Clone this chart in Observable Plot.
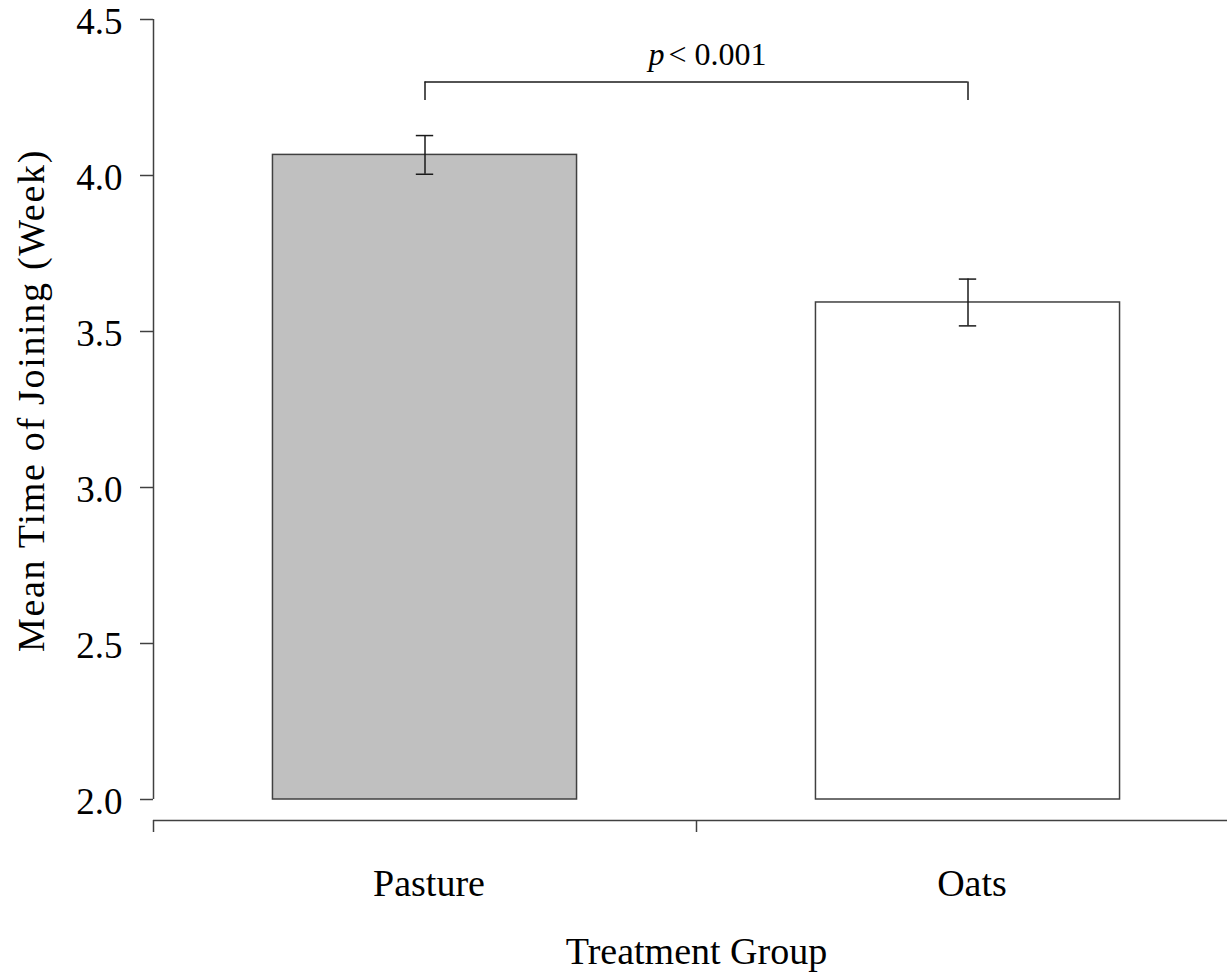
<!DOCTYPE html>
<html><head><meta charset="utf-8">
<script src="https://cdn.jsdelivr.net/npm/d3@7"></script>
<script src="https://cdn.jsdelivr.net/npm/@observablehq/plot@0.6"></script>
<style>
html,body{margin:0;padding:0;background:#fff;overflow:hidden;}
</style></head><body><div id="chart"></div>
<script>
// ---- data ----
const categories = ["Pasture", "Oats"];
const means = [4.066, 3.593];
const stdErrors = [0.062, 0.075];
const barFills = ["#c0c0c0", "#ffffff"];
const yTicks = [2.0, 2.5, 3.0, 3.5, 4.0, 4.5];
const yDomain = [2.0, 4.5];
const bracketLevel = 4.30;
const bracketDrop = 4.24;
const pSymbol = "p";
const pText = "< 0.001";
const xLabel = "Treatment Group";
const yLabel = "Mean Time of Joining (Week)";

const data = categories.map((c, i) => ({category: c, pos: i + 1, mean: means[i], se: stdErrors[i], fill: barFills[i]}));
const xDomain = [0.5, categories.length + 0.5];
const xTicks = d3.range(xDomain[0], xDomain[1] + 1e-9, 1);
const font = "'Liberation Serif', 'Times New Roman', serif";
const lineColor = "#404040";
const half = 0.28, cap = 0.016;

const plot = Plot.plot({
  width: 1227, height: 974,
  marginLeft: 153, marginRight: 0, marginTop: 19, marginBottom: 175,
  x: {domain: xDomain, range: [153, 1239], axis: null},
  y: {domain: yDomain, axis: null},
  color: {type: "identity"},
  style: {fontFamily: font, background: "white", overflow: "hidden", color: "black"},
  marks: [
    // bars
    Plot.rectY(data, {x1: d => d.pos - half, x2: d => d.pos + half, y1: yDomain[0], y2: "mean", fill: "fill", stroke: lineColor, strokeWidth: 1.5}),
    // error bars
    Plot.ruleX(data, {x: "pos", y1: d => d.mean - d.se, y2: d => d.mean + d.se, stroke: "#1a1a1a", strokeWidth: 1.5}),
    Plot.ruleY(data, {y: d => d.mean + d.se, x1: d => d.pos - cap, x2: d => d.pos + cap, stroke: "#1a1a1a", strokeWidth: 1.5}),
    Plot.ruleY(data, {y: d => d.mean - d.se, x1: d => d.pos - cap, x2: d => d.pos + cap, stroke: "#1a1a1a", strokeWidth: 1.5}),
    // y axis
    Plot.ruleX([xDomain[0]], {y1: yDomain[0], y2: yDomain[1], stroke: lineColor, strokeWidth: 1.5}),
    Plot.axisY({ticks: yTicks, tickSize: 13, tickFormat: () => "", label: null, stroke: lineColor, strokeWidth: 1.5}),
    Plot.text(yTicks, {x: xDomain[0], y: d => d, text: d => d3.format(".1f")(d), textAnchor: "end", dx: -31, dy: 3, fontSize: 37, fill: "black"}),
    // x axis
    Plot.ruleY([yDomain[0]], {x1: xDomain[0], x2: xDomain[1], dy: 21, stroke: lineColor, strokeWidth: 1.5}),
    Plot.axisX({ticks: xTicks, tickSize: 12, tickFormat: () => "", label: null, dy: 21, stroke: lineColor, strokeWidth: 1.5}),
    Plot.text(data, {x: "pos", y: yDomain[0], text: "category", lineAnchor: "bottom", dy: 96, dx: 4, fontSize: 38, fill: "black"}),
    Plot.text([xLabel], {x: d3.mean(xDomain), y: yDomain[0], lineAnchor: "bottom", dy: 164, fontSize: 38, fill: "black"}),
    Plot.text([yLabel], {frameAnchor: "left", textAnchor: "middle", rotate: -90, dx: -110, dy: -9, lineAnchor: "bottom", fontSize: 38, fill: "black"}),
    // significance bracket
    Plot.ruleY([bracketLevel], {x1: data[0].pos, x2: data[1].pos, stroke: "#1a1a1a", strokeWidth: 1.5}),
    Plot.ruleX(data, {x: "pos", y1: bracketDrop, y2: bracketLevel, stroke: "#1a1a1a", strokeWidth: 1.5}),
    Plot.text([pSymbol], {x: (data[0].pos + data[1].pos) / 2, y: bracketLevel, textAnchor: "end", dx: -32, dy: -16.5, lineAnchor: "bottom", fontStyle: "italic", fontSize: 32, fill: "black"}),
    Plot.text([pText], {x: (data[0].pos + data[1].pos) / 2, y: bracketLevel, textAnchor: "start", dx: -28, dy: -16.5, lineAnchor: "bottom", fontSize: 32, fill: "black"})
  ]
});
// widen the letter spacing of the y-axis title to match the reference
d3.select(plot).selectAll("text").filter(function() { return this.textContent === yLabel; })
  .style("letter-spacing", "1.7px");
document.getElementById("chart").appendChild(plot);
</script>
</body></html>
